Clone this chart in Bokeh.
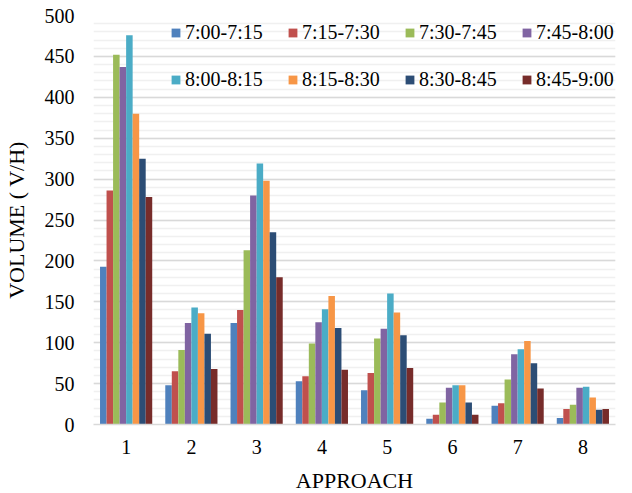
from bokeh.plotting import figure
from bokeh.models import Range1d, FixedTicker, Legend, LegendItem, ColumnDataSource
from bokeh.transform import dodge
from bokeh.embed import file_html
from bokeh.resources import INLINE

approach = [1, 2, 3, 4, 5, 6, 7, 8]
periods = ["7:00-7:15", "7:15-7:30", "7:30-7:45", "7:45-8:00",
           "8:00-8:15", "8:15-8:30", "8:30-8:45", "8:45-9:00"]
colors = ["#4F81BD", "#C0504D", "#9BBB59", "#8064A2",
          "#4BACC6", "#F79646", "#2C4D75", "#772C2A"]

v_0700 = [193, 48, 124, 53, 42, 7, 23, 8]
v_0715 = [286, 65, 140, 59, 63, 12, 26, 19]
v_0730 = [452, 91, 213, 99, 105, 27, 55, 24]
v_0745 = [437, 124, 280, 125, 117, 45, 86, 45]
v_0800 = [476, 143, 319, 141, 160, 48, 92, 46]
v_0815 = [380, 136, 298, 157, 137, 48, 102, 33]
v_0830 = [325, 111, 235, 118, 109, 27, 75, 18]
v_0845 = [278, 68, 180, 67, 69, 12, 44, 19]
series = [v_0700, v_0715, v_0730, v_0745, v_0800, v_0815, v_0830, v_0845]

y_ticks = list(range(0, 501, 50))
y_minor = list(range(0, 501, 10))

FONT = "Liberation Serif"

src = ColumnDataSource(dict(approach=approach,
                            **{f"s{i}": s for i, s in enumerate(series)}))

p = figure(frame_width=522, frame_height=409, output_backend="svg",
           toolbar_location=None,
           x_range=Range1d(0.5, 8.5), y_range=Range1d(0, 500),
           min_border_left=85, min_border_right=9, min_border_top=15,
           min_border_bottom=60)
p.outline_line_color = None

bar_w = 0.1
renderers = []
for i, (name, col) in enumerate(zip(periods, colors)):
    off = (i - 3.5) * bar_w
    r = p.vbar(x=dodge("approach", off, range=p.x_range), top=f"s{i}",
               width=bar_w, bottom=0, source=src,
               fill_color=col, line_color=None)
    renderers.append(r)

# legend fills column by column: order so that rows read left to right
order = [0, 4, 1, 5, 2, 6, 3, 7]
items = [LegendItem(label=periods[k], renderers=[renderers[k]]) for k in order]

legend = Legend(items=items, ncols=4, location=(77, 332),
                glyph_width=11, glyph_height=11, label_standoff=4,
                spacing=22, label_height=25, label_width=80,
                padding=0, margin=0,
                border_line_color=None, background_fill_alpha=0,
                label_text_font="'Liberation Serif'", label_text_font_size="20px",
                label_text_color="#000000")
p.add_layout(legend)

p.xaxis.ticker = FixedTicker(ticks=approach)
p.yaxis.ticker = FixedTicker(ticks=y_ticks, minor_ticks=y_minor)

p.xgrid.grid_line_color = None
p.ygrid.grid_line_color = "#D9D9D9"
p.ygrid.grid_line_width = 1.5
p.ygrid.minor_grid_line_color = "#F0F0F0"
p.ygrid.minor_grid_line_width = 1.5

for ax in (p.xaxis, p.yaxis):
    ax.major_tick_line_color = None
    ax.minor_tick_line_color = None
    ax.major_label_text_font = FONT
    ax.major_label_text_font_size = "20px"
    ax.major_label_text_color = "#000000"
    ax.axis_label_text_font = FONT
    ax.axis_label_text_font_size = "22px"
    ax.axis_label_text_font_style = "normal"
    ax.axis_label_text_color = "#000000"

p.yaxis.axis_line_color = None
p.xaxis.axis_line_color = "#D9D9D9"
p.xaxis.axis_line_width = 1.5

p.xaxis.axis_label = "APPROACH"
p.yaxis.axis_label = "VOLUME ( V/H)"
p.xaxis.major_label_standoff = 9
p.xaxis.axis_label_standoff = 11
p.yaxis.major_label_standoff = 13
p.yaxis.axis_label_standoff = 13

open("out.html", "w").write(file_html(p, INLINE))
